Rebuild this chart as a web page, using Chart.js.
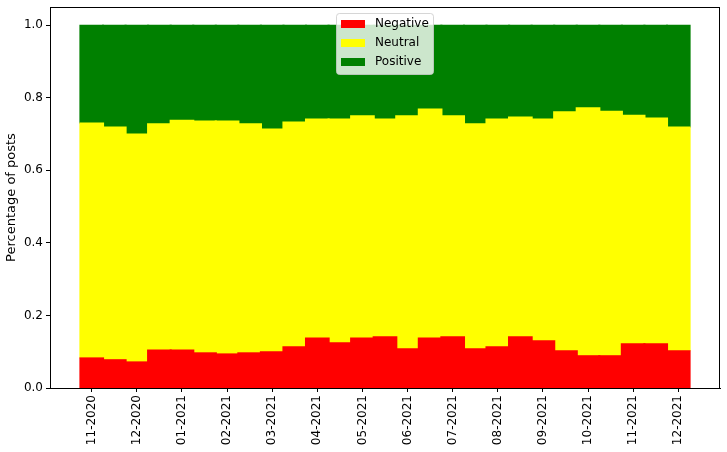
<!DOCTYPE html>
<html>
<head>
<meta charset="utf-8">
<script src="https://cdn.jsdelivr.net/npm/chart.js@4.4.0/dist/chart.umd.min.js"></script>
<style>
  html, body { margin: 0; padding: 0; background: #fff; }
  #wrap { width: 727px; height: 452px; }
</style>
</head>
<body>
<div id="wrap"><canvas id="canvas"></canvas></div>
<script>
// two bars per month, month label under every second bar
const monthLabels = ['11-2020', '12-2020', '01-2021', '02-2021', '03-2021', '04-2021', '05-2021',
    '06-2021', '07-2021', '08-2021', '09-2021', '10-2021', '11-2021', '12-2021'];
const periods = [0, 1, 2, 3, 4, 5, 6, 7, 8, 9, 10, 11, 12, 13, 14, 15, 16, 17, 18, 19, 20, 21, 22, 23, 24, 25, 26];

const negative = [0.083, 0.078, 0.072, 0.105, 0.105, 0.097, 0.094, 0.097, 0.100, 0.114, 0.138, 0.125, 0.138, 0.141,
    0.108, 0.138, 0.141, 0.108, 0.114, 0.141, 0.130, 0.103, 0.089, 0.089, 0.122, 0.122, 0.103];
const neutral = [0.647, 0.641, 0.628, 0.623, 0.633, 0.639, 0.642, 0.631, 0.614, 0.619, 0.603, 0.616, 0.612, 0.600,
    0.642, 0.631, 0.609, 0.620, 0.627, 0.606, 0.611, 0.658, 0.683, 0.674, 0.630, 0.622, 0.616];
const positive = [0.270, 0.281, 0.300, 0.272, 0.262, 0.264, 0.264, 0.272, 0.286, 0.267, 0.259, 0.259, 0.250, 0.259,
    0.250, 0.231, 0.250, 0.272, 0.259, 0.253, 0.259, 0.239, 0.228, 0.237, 0.248, 0.256, 0.281];
const yTicks = [0, 0.2, 0.4, 0.6, 0.8, 1.0];

const FONT = 'DejaVu Sans';
Chart.defaults.font.family = FONT;
Chart.defaults.color = '#000';

const toPoints = arr => arr.map((v, i) => ({ x: periods[i], y: v }));

const frame = {
    id: 'frame',
    afterDraw(chart) {
        const a = chart.chartArea, ctx = chart.ctx;
        ctx.save();
        ctx.strokeStyle = '#000';
        ctx.lineWidth = 1;
        ctx.strokeRect(Math.round(a.left) + 0.5, Math.round(a.top) + 0.5,
            Math.round(a.right - a.left) - 1, Math.round(a.bottom - a.top));
        ctx.restore();
    }
};

// matplotlib style legend box inside the axes
const boxLegend = {
    id: 'boxLegend',
    afterDraw(chart) {
        const ctx = chart.ctx;
        const x = 336.5, y = 13.5, w = 97, h = 61, r = 3;
        ctx.save();
        ctx.beginPath();
        ctx.roundRect(x, y, w, h, r);
        ctx.fillStyle = 'rgba(255,255,255,0.8)';
        ctx.fill();
        ctx.strokeStyle = 'rgba(204,204,204,0.8)';
        ctx.lineWidth = 1;
        ctx.stroke();
        ctx.font = '12px ' + FONT;
        ctx.textBaseline = 'middle';
        chart.data.datasets.forEach((ds, i) => {
            const cy = 24 + i * 19;
            ctx.fillStyle = ds.backgroundColor;
            ctx.fillRect(341, cy - 4, 24, 8);
            ctx.fillStyle = '#000';
            ctx.fillText(ds.label, 375, cy);
        });
        ctx.restore();
    }
};

const barStyle = { barPercentage: 1.05, categoryPercentage: 1, borderWidth: 0, inflateAmount: 0.5 };

const data = {
    datasets: [
        { label: 'Negative', backgroundColor: 'red', data: toPoints(negative), ...barStyle },
        { label: 'Neutral', backgroundColor: 'yellow', data: toPoints(neutral), ...barStyle },
        { label: 'Positive', backgroundColor: 'green', data: toPoints(positive), ...barStyle }
    ]
};

const config = {
    type: 'bar',
    data: data,
    options: {
        responsive: false,
        animation: false,
        layout: { padding: { top: 7, right: 7, left: 0, bottom: 0 } },
        plugins: { legend: { display: false }, tooltip: { enabled: false } },
        scales: {
            x: {
                type: 'linear',
                stacked: true,
                offset: false,
                min: -1.85,
                max: 27.85,
                afterBuildTicks: s => { s.ticks = monthLabels.map((_, k) => ({ value: k * 2 })); },
                afterFit: s => { s.height = 64; s.paddingLeft = 0; s.paddingRight = 0; },
                ticks: {
                    font: { size: 12 },
                    maxRotation: 90,
                    minRotation: 90,
                    padding: 3,
                    callback: v => monthLabels[v / 2]
                },
                grid: { offset: false, drawOnChartArea: false, drawTicks: true, tickLength: 4, color: '#000' },
                border: { display: true, color: '#000' }
            },
            y: {
                stacked: true,
                min: 0,
                max: 1.05,
                afterBuildTicks: s => { s.ticks = yTicks.map(v => ({ value: v })); },
                afterFit: s => { s.width = 50; s.paddingTop = 0; s.paddingBottom = 0; },
                ticks: {
                    font: { size: 12 },
                    padding: 3,
                    callback: v => v.toFixed(1)
                },
                grid: { drawOnChartArea: false, drawTicks: true, tickLength: 4, color: '#000' },
                border: { display: true, color: '#000' },
                title: { display: true, text: 'Percentage of posts', font: { size: 13 }, padding: { top: 4, bottom: 0 } }
            }
        }
    },
    plugins: [frame, boxLegend]
};

const canvas = document.getElementById('canvas');
canvas.width = 727;
canvas.height = 452;
const chart = new Chart(canvas, config);
</script>
</body>
</html>
